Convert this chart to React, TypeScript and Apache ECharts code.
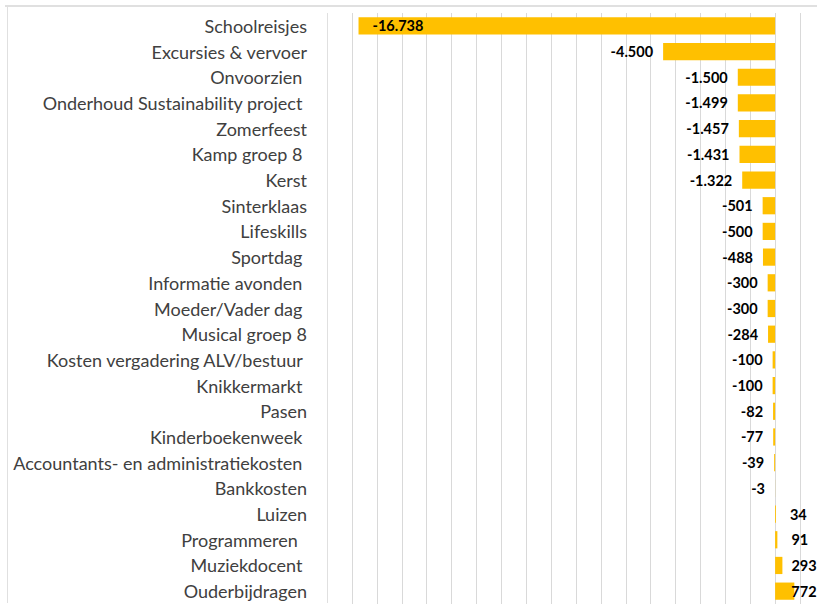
import React, { useEffect, useRef } from "react";
import * as echarts from "echarts";

const categories = [
  "Schoolreisjes",
  "Excursies & vervoer",
  "Onvoorzien ",
  "Onderhoud Sustainability project ",
  "Zomerfeest",
  "Kamp groep 8 ",
  "Kerst",
  "Sinterklaas",
  "Lifeskills",
  "Sportdag ",
  "Informatie avonden ",
  "Moeder/Vader dag ",
  "Musical groep 8",
  "Kosten vergadering ALV/bestuur ",
  "Knikkermarkt ",
  "Pasen",
  "Kinderboekenweek ",
  "Accountants- en administratiekosten ",
  "Bankkosten",
  "Luizen",
  "Programmeren  ",
  "Muziekdocent ",
  "Ouderbijdragen",
];

const values = [
  -16738, -4500, -1500, -1499, -1457, -1431, -1322, -501, -500, -488, -300, -300, -284,
  -100, -100, -82, -77, -39, -3, 34, 91, 293, 772,
];

const axisMin = -17000;
const axisMax = 1000;
const axisInterval = 1000;

function formatNL(v: number): string {
  const s = Math.abs(v).toString().replace(/\B(?=(\d{3})+(?!\d))/g, ".");
  return (v < 0 ? "-" : "") + s;
}

export default function App() {
  const ref = useRef<HTMLDivElement>(null);

  useEffect(() => {
    if (!ref.current) return;
    const chart = echarts.init(ref.current, undefined, { renderer: "svg" });

    const positiveGaps: Record<number, number> = { 34: 14, 91: 14, 293: 9, 772: -3 };

    const data = values.map((v, i) => {
      let label: any;
      if (i === 0) {
        label = { position: "insideLeft", distance: 14 };
      } else if (v < 0) {
        label = { position: "left", distance: 10 };
      } else {
        label = { position: "right", distance: positiveGaps[v] ?? 12 };
      }
      return { value: v, label };
    });

    chart.setOption({
      animation: false,
      backgroundColor: "#ffffff",
      grid: { left: 352, right: 17, top: 13, bottom: 6, containLabel: false },
      xAxis: {
        type: "value",
        min: axisMin,
        max: axisMax,
        interval: axisInterval,
        axisLabel: { show: false },
        axisLine: { show: false },
        axisTick: { show: false },
        splitLine: { show: true, lineStyle: { color: "#d9d9d9", width: 1 } },
      },
      yAxis: {
        type: "category",
        data: categories,
        inverse: true,
        axisLine: { show: false },
        axisTick: { show: false },
        axisLabel: {
          margin: 45,
          fontFamily: "Lato",
          fontSize: 18,
          color: "#404040",
          align: "right",
        },
      },
      series: [
        {
          type: "bar",
          data,
          barCategoryGap: "33%",
          itemStyle: { color: "#FFC000" },
          label: {
            show: true,
            fontFamily: "Lato",
            fontSize: 14.5,
            fontWeight: "bold",
            color: "#000000",
            formatter: (p: any) => formatNL(p.value),
          },
        },
      ],
      graphic: [
        {
          type: "line",
          shape: { x1: 5, y1: 6, x2: 817, y2: 6 },
          style: { stroke: "#e0e0e0", lineWidth: 2 },
        },
        {
          type: "line",
          shape: { x1: 7.5, y1: 6, x2: 7.5, y2: 603 },
          style: { stroke: "#e0e0e0", lineWidth: 1 },
        },
        {
          type: "line",
          shape: { x1: 327.5, y1: 13, x2: 327.5, y2: 603 },
          style: { stroke: "#e0e0e0", lineWidth: 1 },
        },
      ],
    });

    return () => {
      chart.dispose();
    };
  }, []);

  return (
    <div
      ref={ref}
      style={{ position: "fixed", left: 0, top: 0, width: 817, height: 610 }}
    />
  );
}
